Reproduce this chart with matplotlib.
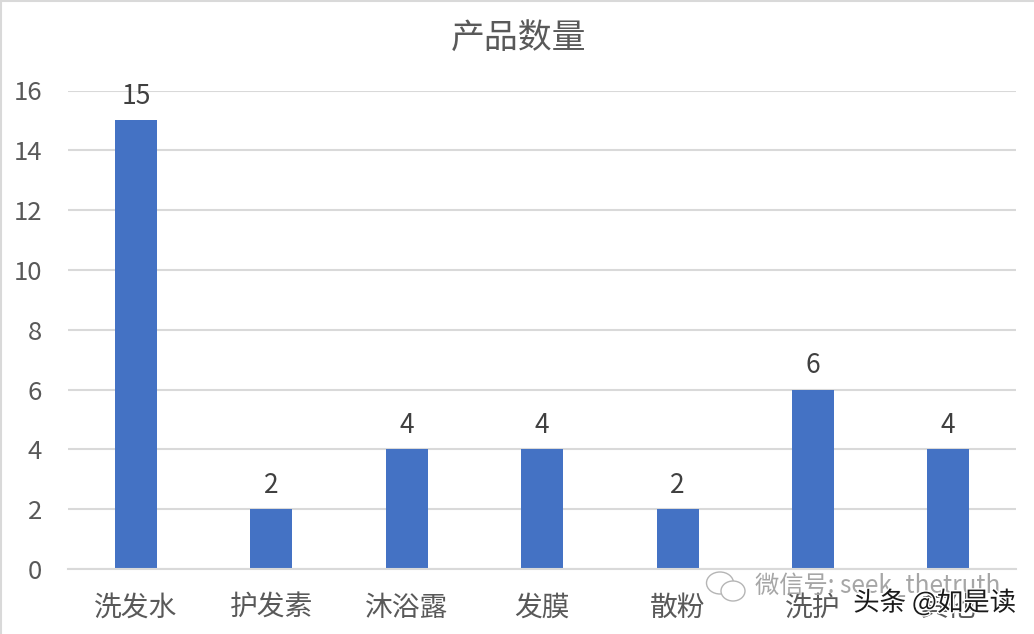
import matplotlib
matplotlib.use('Agg')
import matplotlib.pyplot as plt
import matplotlib.patheffects as pe
from matplotlib.patches import Ellipse

plt.rcParams['font.family'] = ['Noto Sans CJK SC', 'DejaVu Sans']

categories = ['洗发水', '护发素', '沐浴露', '发膜', '散粉', '洗护', '其他']
counts = [15, 2, 4, 4, 2, 6, 4]
y_ticks = [0, 2, 4, 6, 8, 10, 12, 14, 16]

W, H = 1034, 634
fig = plt.figure(figsize=(W / 100, H / 100), dpi=100)
ax = fig.add_axes([68.3 / W, 1 - 569 / H, (1016 - 68.3) / W, (569 - 90.5) / H])

ax.set_axisbelow(True)
ax.grid(axis='y', color='#d9d9d9', linewidth=1.5)
bars = ax.bar(range(len(categories)), counts, width=0.31, color='#4472c4')
ax.bar_label(bars, padding=7.5, fontsize=19, color='#404040')

ax.set_xlim(-0.5, 6.5)
ax.set_ylim(0, 16)
ax.set_xticks(range(len(categories)), categories)
ax.set_yticks(y_ticks)
ax.tick_params(length=0, labelcolor='#595959')
ax.tick_params(axis='x', pad=17, labelsize=20)
ax.tick_params(axis='y', pad=19, labelsize=18.5)
for side in ['top', 'right', 'left']:
    ax.spines[side].set_visible(False)
ax.spines['bottom'].set_color('#d9d9d9')
ax.spines['bottom'].set_linewidth(1.5)

fig.text(519 / W, 1 - 38 / H, '产品数量', fontsize=24.4, color='#595959', ha='center', va='center')

# outer chart frame, only left and top show in the screenshot
fig.add_artist(plt.Line2D([1 / W, 1 / W], [0, 1], color='#d9d9d9', linewidth=1.5))
fig.add_artist(plt.Line2D([0, 1], [1 - 0.5 / H, 1 - 0.5 / H], color='#d9d9d9', linewidth=1.5))

# watermarks
fig.text(755 / W, 1 - 586 / H, '微信号: seek_thetruth', fontsize=17.5, color='#a6a6a6', ha='left', va='center')
for cx, cy, ew, eh in [(720, 583, 27, 22), (733, 591, 24, 20)]:
    fig.add_artist(Ellipse((cx / W, 1 - cy / H), ew / W, eh / H, transform=fig.transFigure,
                           facecolor='white', edgecolor='#b5b5b5', linewidth=1))
fig.text(1016 / W, 1 - 603 / H, '头条 @如是读', fontsize=19, color='#1a1a1a', ha='right', va='center',
         path_effects=[pe.withStroke(linewidth=2, foreground='white')])

fig.savefig('out.png', dpi=100)
